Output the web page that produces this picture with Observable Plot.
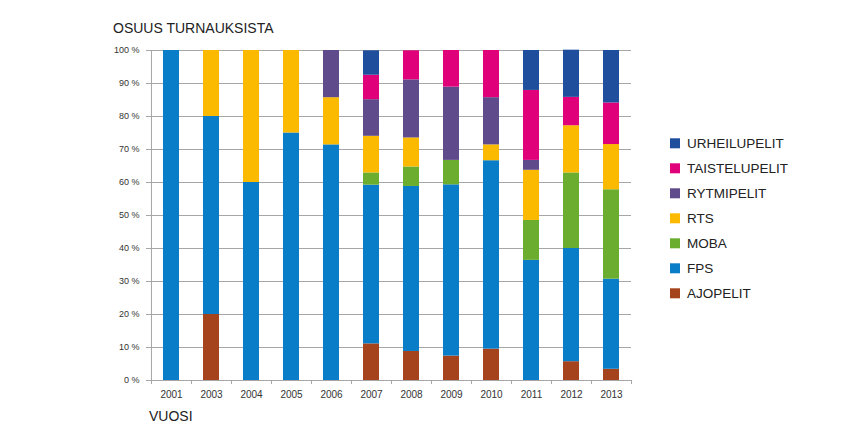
<!DOCTYPE html>
<html>
<head>
<meta charset="utf-8">
<script src="https://cdn.jsdelivr.net/npm/d3@7"></script>
<script src="https://cdn.jsdelivr.net/npm/@observablehq/plot@0.6"></script>
<style>
  html, body { margin: 0; padding: 0; background: #fff; }
  #chart svg { display: block; }
</style>
</head>
<body>
<div id="chart"></div>
<script>
const years = ["2001","2003","2004","2005","2006","2007","2008","2009","2010","2011","2012","2013"];
// stacked bottom to top
const seriesNames = ["AJOPELIT","FPS","MOBA","RTS","RYTMIPELIT","TAISTELUPELIT","URHEILUPELIT"];
const seriesColors = ["#a5441c","#0a7dc8","#6aad2f","#fbb900","#5f4b8b","#e0007a","#1f4e9c"];
const AJOPELIT      = [0, 20, 0, 0, 0, 11.1, 8.8, 7.4, 9.5, 0, 5.7, 3.4];
const FPS           = [100, 60, 60, 75, 71.4, 48.1, 50, 51.9, 57.1, 36.4, 34.3, 27.3];
const MOBA          = [0, 0, 0, 0, 0, 3.7, 5.9, 7.4, 0, 12.1, 22.9, 27.1];
const RTS           = [0, 20, 40, 25, 14.3, 11.1, 8.8, 0, 4.8, 15.2, 14.3, 13.7];
const RYTMIPELIT    = [0, 0, 0, 0, 14.3, 11.1, 17.6, 22.2, 14.3, 3.0, 0, 0];
const TAISTELUPELIT = [0, 0, 0, 0, 0, 7.4, 8.8, 11.1, 14.3, 21.2, 8.6, 12.6];
const URHEILUPELIT  = [0, 0, 0, 0, 0, 7.4, 0, 0, 0, 12.1, 14.3, 15.9];
const yTicks = [0,10,20,30,40,50,60,70,80,90,100];
const titleText = "OSUUS TURNAUKSISTA";
const xTitleText = "VUOSI";

const seriesValues = {AJOPELIT, FPS, MOBA, RTS, RYTMIPELIT, TAISTELUPELIT, URHEILUPELIT};
const table = [];
seriesNames.forEach(s => years.forEach((y, i) => {
  if (seriesValues[s][i] > 0) table.push({year: y, series: s, value: seriesValues[s][i]});
}));

const W = 868, H = 443;
const step = (631 - 150) / years.length;
const gray = "#a6a6a6";
const font = "'Liberation Sans', Arial, sans-serif";

const chart = Plot.plot({
  width: W, height: H,
  marginLeft: 150, marginRight: 237, marginTop: 50, marginBottom: 63,
  style: {fontFamily: font, background: "#fff"},
  x: {domain: years, paddingInner: 0.6, paddingOuter: 0.3, label: null},
  y: {domain: [0, 100], label: null},
  color: {domain: seriesNames, range: seriesColors},
  marks: [
    Plot.ruleY(yTicks, {stroke: gray, strokeWidth: 1}),
    Plot.ruleX([years[0]], {x: d => d, dx: -step / 2, y1: 0, y2: 100, stroke: gray}),
    Plot.ruleX(years, {x: d => d, dx: -step / 2, y1: 0, y2: 0, insetBottom: -4, stroke: gray}),
    Plot.ruleX([years[years.length - 1]], {x: d => d, dx: step / 2, y1: 0, y2: 0, insetBottom: -4, stroke: gray}),
    Plot.barY(table, {x: "year", y: "value", fill: "series", order: seriesNames}),
    Plot.axisY({ticks: yTicks, tickFormat: d => d + " %", tickSize: 4, tickPadding: 7, stroke: gray, fontSize: 9, color: "#333", label: null}),
    Plot.axisX({tickSize: 0, tickPadding: 10, fontSize: 10, color: "#333", label: null})
  ]
});

const svg = d3.select(chart);
svg.append("text").attr("x", 113).attr("y", 32.5).attr("font-size", 14).attr("fill", "#222")
  .attr("text-anchor", "start").attr("font-family", font).text(titleText);
svg.append("text").attr("x", 149).attr("y", 421).attr("font-size", 14).attr("fill", "#222")
  .attr("text-anchor", "start").attr("font-family", font).text(xTitleText);

const legendOrder = seriesNames.slice().reverse();
const color = chart.scale("color");
const lg = svg.append("g").attr("font-family", font).attr("text-anchor", "start");
legendOrder.forEach((s, i) => {
  const y0 = 138.3 + i * 25;
  lg.append("rect").attr("x", 670).attr("y", y0).attr("width", 10).attr("height", 10)
    .attr("fill", color.apply(s));
  lg.append("text").attr("x", 687).attr("y", y0 + 9.7).attr("font-size", 13.5)
    .attr("fill", "#222").text(s);
});

document.getElementById("chart").appendChild(chart);
</script>
</body>
</html>
